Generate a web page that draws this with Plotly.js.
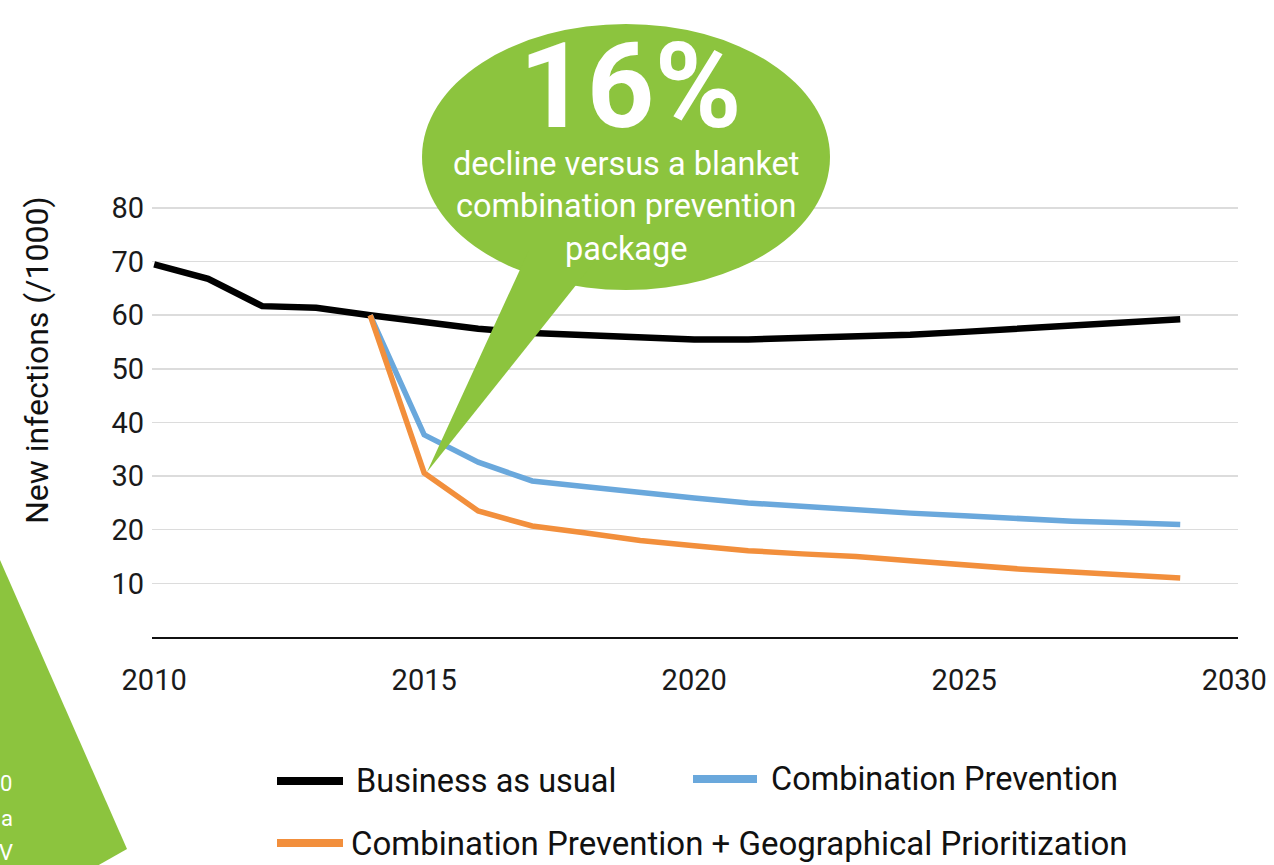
<!DOCTYPE html>
<html>
<head>
<meta charset="utf-8">
<script src="https://cdn.plot.ly/plotly-3.0.1.min.js"></script>
<style>
html,body{margin:0;padding:0;background:#fff;}
#chart{width:1274px;height:865px;}
</style>
</head>
<body>
<div id="chart"></div>
<script>
// ---- data ----
const years = [2010,2011,2012,2013,2014,2015,2016,2017,2018,2019,2020,2021,2022,2023,2024,2025,2026,2027,2028,2029];
const businessAsUsual = [69.5,66.8,61.7,61.4,60.0,58.6,57.5,56.7,56.2,55.8,55.5,55.5,55.7,55.95,56.35,56.9,57.45,58.0,58.6,59.25];
const interventionYears = [2014,2015,2016,2017,2018,2019,2020,2021,2022,2023,2024,2025,2026,2027,2028,2029];
const combinationPrevention = [60.0,37.7,32.6,29.1,28.0,26.9,25.9,25.0,24.3,23.7,23.1,22.6,22.0,21.6,21.3,21.0];
const geoPrioritization = [60.0,30.6,23.5,20.7,19.4,18.0,17.0,16.1,15.5,15.0,14.2,13.4,12.7,12.1,11.5,11.0];
const seriesNames = ["Business as usual","Combination Prevention","Combination Prevention + Geographical Prioritization"];
const yTicks = [10,20,30,40,50,60,70,80];
const xTicks = [2010,2015,2020,2025,2030];
const yTitle = "New infections (/1000)";
const bigNumber = "16%";
const calloutText = "decline versus a blanket<br>combination prevention<br>package";

// ---- styling ----
const W = 1274, H = 865;
const FONT = "Roboto, 'Open Sans', sans-serif";
const C_BLACK = "#000000", C_BLUE = "#6aa8dc", C_ORANGE = "#f28f3c", C_GREEN = "#8cc43e";
const px = v => v / W;
const py = v => 1 - v / H;

const traces = [
  {x: years, y: businessAsUsual, name: seriesNames[0], mode: "lines", line: {color: C_BLACK, width: 6.5}},
  {x: interventionYears, y: combinationPrevention, name: seriesNames[1], mode: "lines", line: {color: C_BLUE, width: 5.5}},
  {x: interventionYears, y: geoPrioritization, name: seriesNames[2], mode: "lines", line: {color: C_ORANGE, width: 5.5}}
];

const shapes = [
  // callout bubble
  {type: "circle", xref: "paper", yref: "paper", x0: px(422), x1: px(830), y0: py(290), y1: py(24),
   fillcolor: C_GREEN, line: {width: 0}, layer: "above"},
  {type: "path", xref: "paper", yref: "paper", fillcolor: C_GREEN, line: {width: 0}, layer: "above",
   path: `M ${px(427)},${py(472)} L ${px(529)},${py(250)} L ${px(604)},${py(250)} Z`},
  // decorative green panel at bottom-left
  {type: "path", xref: "paper", yref: "paper", fillcolor: C_GREEN, line: {width: 0}, layer: "above",
   path: `M ${px(0)},${py(560)} L ${px(127)},${py(849)} L ${px(97)},${py(866)} L ${px(0)},${py(866)} Z`},
  // legend samples
  {type: "line", xref: "paper", yref: "paper", x0: px(277), x1: px(343), y0: py(781), y1: py(781), line: {color: C_BLACK, width: 8}},
  {type: "line", xref: "paper", yref: "paper", x0: px(693), x1: px(757), y0: py(779), y1: py(779), line: {color: C_BLUE, width: 8}},
  {type: "line", xref: "paper", yref: "paper", x0: px(277), x1: px(343), y0: py(843), y1: py(843), line: {color: C_ORANGE, width: 8}}
];

const annotations = [
  {xref: "paper", yref: "paper", x: px(37), y: py(360), text: yTitle, textangle: -90, showarrow: false,
   xanchor: "center", yanchor: "middle", font: {family: FONT, size: 32, color: "#111"}},
  {xref: "paper", yref: "paper", x: px(630), y: py(87), text: bigNumber, showarrow: false,
   xanchor: "center", yanchor: "middle", font: {family: FONT, size: 118, color: "#ffffff", weight: 700}},
  {xref: "paper", yref: "paper", x: px(626), y: py(206), text: calloutText, showarrow: false,
   xanchor: "center", yanchor: "middle", align: "center", font: {family: FONT, size: 32.5, color: "#ffffff"}},
  // legend texts
  {xref: "paper", yref: "paper", x: px(354), y: py(781), text: seriesNames[0], showarrow: false,
   xanchor: "left", yanchor: "middle", font: {family: FONT, size: 32.5, color: "#111"}},
  {xref: "paper", yref: "paper", x: px(769), y: py(779), text: seriesNames[1], showarrow: false,
   xanchor: "left", yanchor: "middle", font: {family: FONT, size: 32.5, color: "#111"}},
  {xref: "paper", yref: "paper", x: px(349), y: py(843), text: seriesNames[2], showarrow: false,
   xanchor: "left", yanchor: "middle", font: {family: FONT, size: 33, color: "#111"}},
  // clipped text fragments in the bottom-left panel
  {xref: "paper", yref: "paper", x: px(-2), y: py(783), text: "0", showarrow: false, xanchor: "left", yanchor: "middle",
   font: {family: FONT, size: 22, color: "#ffffff"}},
  {xref: "paper", yref: "paper", x: px(-1), y: py(818), text: "a", showarrow: false, xanchor: "left", yanchor: "middle",
   font: {family: FONT, size: 22, color: "#ffffff"}},
  {xref: "paper", yref: "paper", x: px(-3), y: py(852), text: "V", showarrow: false, xanchor: "left", yanchor: "middle",
   font: {family: FONT, size: 22, color: "#ffffff"}}
];

const layout = {
  width: W, height: H,
  margin: {l: 0, r: 0, t: 0, b: 0, pad: 0},
  paper_bgcolor: "#ffffff", plot_bgcolor: "#ffffff",
  showlegend: false,
  xaxis: {
    domain: [px(152), px(1238)],
    range: [2009.96, 2030.07],
    tickvals: xTicks, ticktext: xTicks.map(String),
    showgrid: false, zeroline: false,
    showline: true, linecolor: "#111", linewidth: 2,
    ticks: "", ticklabelstandoff: 16,
    tickfont: {family: FONT, size: 29, color: "#1a1a1a"},
    automargin: false, fixedrange: true
  },
  yaxis: {
    domain: [1 - 637 / H, 1 - (637 - 85 * 5.3625) / H],
    range: [0, 85],
    tickvals: yTicks, ticktext: yTicks.map(String),
    showgrid: true, gridcolor: "#dcdcdc", gridwidth: 1.5,
    zeroline: false, showline: false,
    ticks: "", ticklabelstandoff: 7,
    tickfont: {family: FONT, size: 29, color: "#1a1a1a"},
    automargin: false, fixedrange: true
  },
  shapes: shapes,
  annotations: annotations
};

Plotly.newPlot("chart", traces, layout, {displayModeBar: false, staticPlot: true});
</script>
</body>
</html>
